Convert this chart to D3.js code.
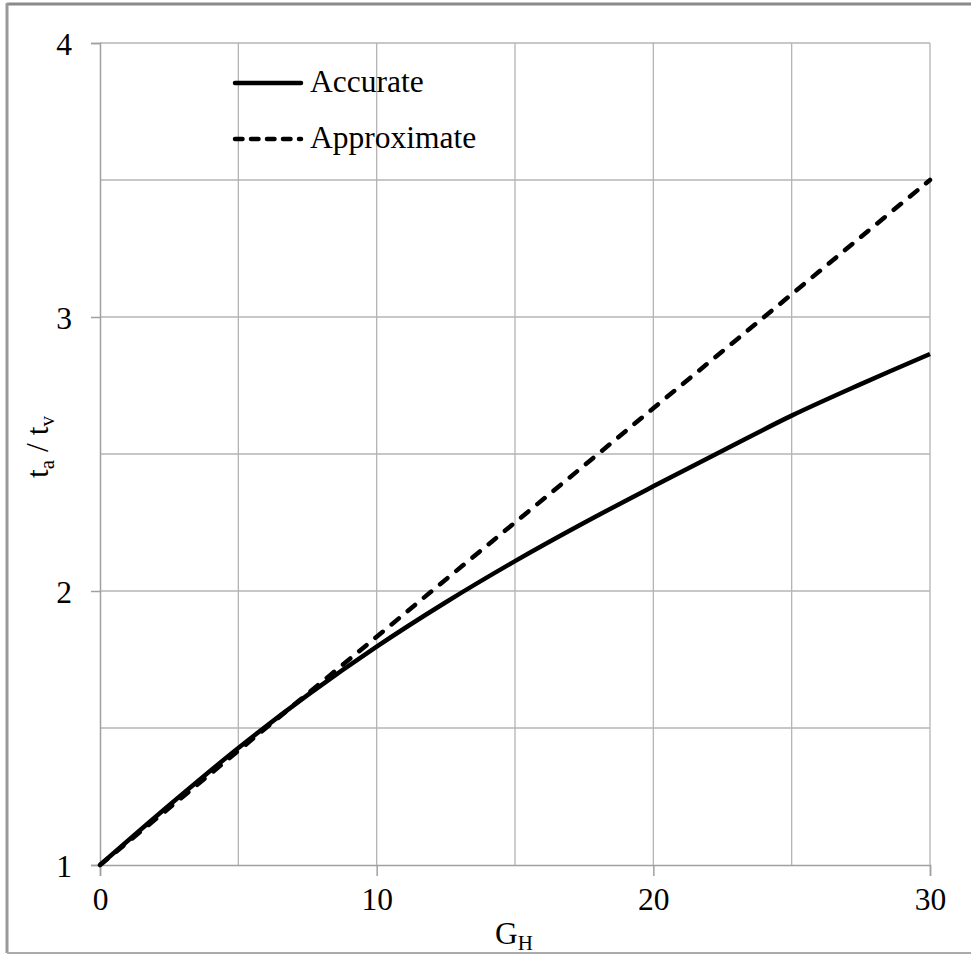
<!DOCTYPE html>
<html>
<head>
<meta charset="utf-8">
<title>ta / tv vs GH</title>
<script src="https://d3js.org/d3.v7.min.js"></script>
<style>
body { margin: 0; background: #fff; }
</style>
</head>
<body>
<script>
// data
const gH = [0, 2.5, 5, 7.5, 10, 12.5, 15, 17.5, 20, 22.5, 25, 27.5, 30];
const accurate = [1, 1.218, 1.427, 1.62, 1.797, 1.959, 2.109, 2.249, 2.382, 2.512, 2.64, 2.755, 2.865];
const approximate = [1, 1.208, 1.417, 1.625, 1.833, 2.042, 2.25, 2.458, 2.667, 2.875, 3.083, 3.292, 3.5];
const xTicks = [0, 10, 20, 30];
const yTicks = [1, 2, 3, 4];
const xGrid = [5, 10, 15, 20, 25, 30];
const yGrid = [1.5, 2, 2.5, 3, 3.5, 4];
const seriesNames = ["Accurate", "Approximate"];

const width = 971, height = 955;
const plotLeft = 100, plotRight = 930, plotTop = 43, plotBottom = 865;
const fs = "31.5px", subFs = "21px";
const serif = "Liberation Serif";

const svg = d3.select("body").append("svg")
    .attr("width", width)
    .attr("height", height);

// outer frame
svg.append("line").attr("x1", 7).attr("x2", width).attr("y1", 4).attr("y2", 4)
    .attr("stroke", "#8a8a8a").attr("stroke-width", 3);
svg.append("line").attr("x1", 7).attr("x2", 7).attr("y1", 3).attr("y2", 953)
    .attr("stroke", "#999").attr("stroke-width", 3);
svg.append("line").attr("x1", 7).attr("x2", width).attr("y1", 953).attr("y2", 953)
    .attr("stroke", "#aaa").attr("stroke-width", 2);

const x = d3.scaleLinear().domain([0, 30]).range([plotLeft, plotRight]);
const y = d3.scaleLinear().domain([1, 4]).range([plotBottom, plotTop]);

// grid
svg.append("g").selectAll("line").data(xGrid).join("line")
    .attr("x1", d => x(d)).attr("x2", d => x(d))
    .attr("y1", plotTop).attr("y2", plotBottom)
    .attr("stroke", "#b4b4b4").attr("stroke-width", 1.3);
svg.append("g").selectAll("line").data(yGrid).join("line")
    .attr("x1", plotLeft).attr("x2", plotRight)
    .attr("y1", d => y(d)).attr("y2", d => y(d))
    .attr("stroke", "#b4b4b4").attr("stroke-width", 1.3);

// axes
const xAxis = d3.axisBottom(x).tickValues(xTicks).tickSize(11).tickPadding(12).tickFormat(d3.format("d"));
const gx = svg.append("g").attr("transform", "translate(0," + plotBottom + ")").call(xAxis);
const yAxis = d3.axisLeft(y).tickValues(yTicks).tickSize(9).tickPadding(19).tickFormat(d3.format("d"));
const gy = svg.append("g").attr("transform", "translate(" + plotLeft + ",0)").call(yAxis);
[gx, gy].forEach(g => {
    g.attr("font-family", null).attr("font-size", null);
    g.select(".domain").attr("stroke", "#a0a0a0").attr("stroke-width", 1.5);
    g.selectAll(".tick line").attr("stroke", "#a0a0a0").attr("stroke-width", 1.5);
    g.selectAll(".tick text").attr("fill", "#000")
        .style("font-family", serif).style("font-size", fs);
});
gy.selectAll(".tick text").attr("dy", "0.35em");

// lines
const line = d3.line().x((d, i) => x(gH[i])).y(d => y(d)).curve(d3.curveCatmullRom);
svg.append("path").datum(approximate).attr("d", line)
    .attr("fill", "none").attr("stroke", "#000").attr("stroke-width", 4.5)
    .attr("stroke-linecap", "round")
    .attr("stroke-dasharray", "9.5,11.5");
svg.append("path").datum(accurate).attr("d", line)
    .attr("fill", "none").attr("stroke", "#000").attr("stroke-width", 4.5);

// legend
const leg = svg.append("g");
seriesNames.forEach((name, i) => {
    const ly = 83 + i * 56;
    leg.append("line").attr("x1", 235).attr("x2", 301).attr("y1", ly).attr("y2", ly)
        .attr("stroke", "#000").attr("stroke-width", 4.5)
        .attr("stroke-linecap", "round")
        .attr("stroke-dasharray", i === 1 ? "7.5,8.5" : null);
    leg.append("text").attr("x", 310).attr("y", ly + 9)
        .style("font-family", serif).style("font-size", fs).text(name);
});

// axis titles
const xt = svg.append("text").attr("x", 514).attr("y", 944)
    .attr("text-anchor", "middle")
    .style("font-family", serif).style("font-size", fs);
xt.append("tspan").text("G");
xt.append("tspan").attr("dy", 6).style("font-size", subFs).text("H");

const yt = svg.append("text")
    .attr("transform", "translate(48,447) rotate(-90)")
    .attr("text-anchor", "middle")
    .style("font-family", serif).style("font-size", fs);
yt.append("tspan").text("t");
yt.append("tspan").attr("dy", 6).style("font-size", subFs).text("a");
yt.append("tspan").attr("dy", -6).text(" / t");
yt.append("tspan").attr("dy", 6).style("font-size", subFs).text("v");
</script>
</body>
</html>
